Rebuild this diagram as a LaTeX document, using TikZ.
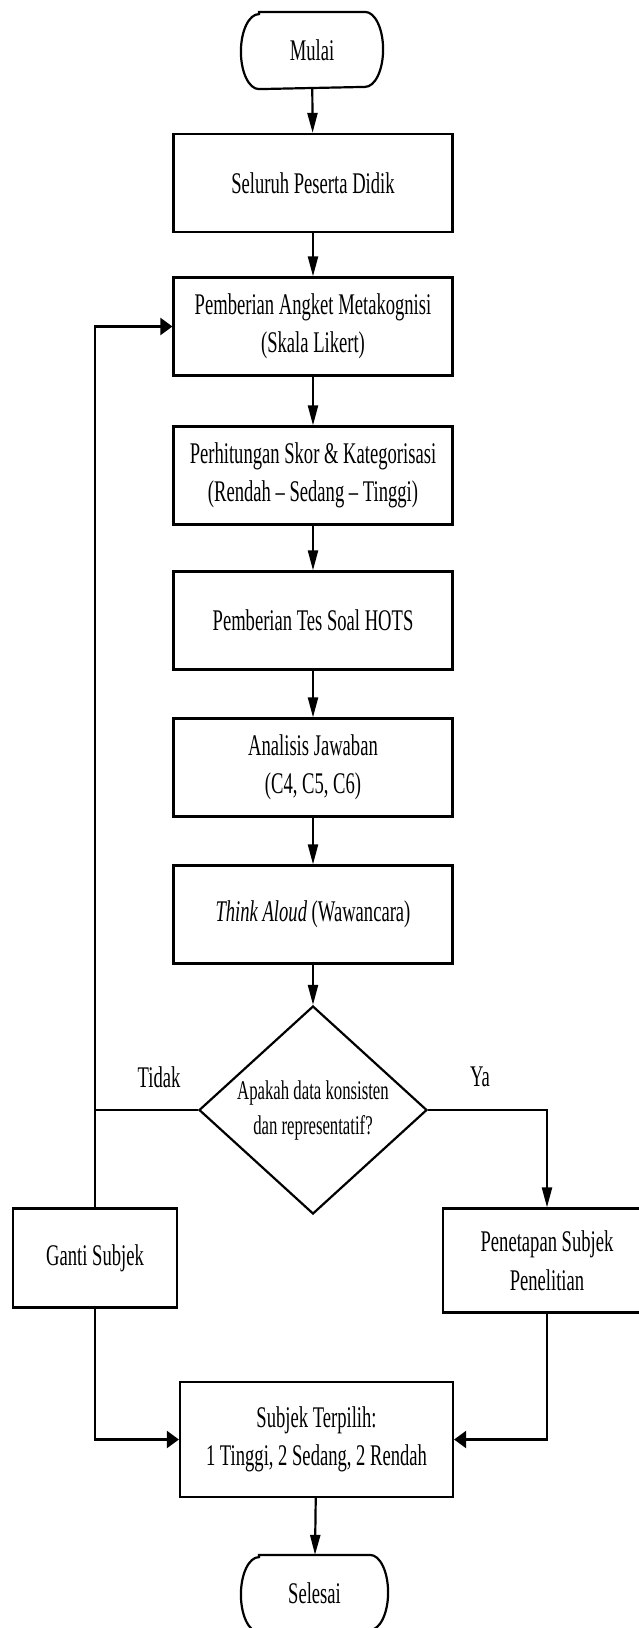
\documentclass[tikz,border=0pt]{standalone}
\usepackage{fontspec}
\setmainfont{Liberation Serif}[FakeStretch=0.62]
\usetikzlibrary{shapes.geometric}
\usetikzlibrary{arrows.meta}

\begin{document}
\begin{tikzpicture}[x=1pt, y=1pt, line width=2.2pt,
        box/.style={draw, rectangle, minimum width=279pt, minimum height=98pt, inner sep=0pt, align=center, font=\fontsize{30}{38.5}\selectfont},
        term/.style={minimum width=140pt, minimum height=75pt, inner sep=0pt, font=\fontsize{30}{34}\selectfont},
        flow/.style={-{Triangle[length=20pt,width=10pt]}},
        flowside/.style={-{Triangle[length=12pt,width=17pt]}}]
        \useasboundingbox (0,0) rectangle (638,-1628);
        \fill[white] (0,0) rectangle (638,-1628);
        \node[term] (mulai) at (312,-50.5){Mulai};
        \draw ([xshift=18pt]mulai.north west) -- ([xshift=-18pt]mulai.north east) arc[start angle=90, end angle=-90, x radius=18pt, y radius=37.5pt] -- ([xshift=18pt]mulai.south west) arc[start angle=270, end angle=90, x radius=18pt, y radius=37.5pt] -- cycle;
        \node[box] (peserta) at (313,-183){Seluruh Peserta Didik};
        \node[box] (angket) at (313,-326.5){Pemberian Angket Metakognisi\\(Skala Likert)};
        \node[box] (skor) at (313,-475.5){Perhitungan Skor \& Kategorisasi\\(Rendah -- Sedang -- Tinggi)};
        \node[box] (tes) at (313,-620.5){Pemberian Tes Soal HOTS};
        \node[box] (analisis) at (313,-767.5){Analisis Jawaban\\(C4, C5, C6)};
        \node[box] (think) at (313,-914.5){\textit{Think Aloud} (Wawancara)};
        \node[draw, diamond, aspect=1.1, minimum width=228pt, minimum height=208pt, inner sep=0pt, align=center, font=\fontsize{27}{35}\selectfont] (cek) at (313,-1110){Apakah data konsisten\\dan representatif?};
        \node[box, minimum width=164pt, minimum height=99pt] (ganti) at (95,-1258){Ganti Subjek};
        \node[box, minimum width=240pt, minimum height=104pt] (tetap) at (563,-1260.5){};
        \node[align=center, font=\fontsize{30}{38.5}\selectfont] (tetaptext) at (547,-1260.5){Penetapan Subjek\\Penelitian};
        \node[box, minimum width=273pt, minimum height=115pt] (pilih) at (316.5,-1439.5){Subjek Terpilih:\\1 Tinggi, 2 Sedang, 2 Rendah};
        \node[term, minimum width=145pt] (selesai) at (314.5,-1593.5){Selesai};
        \draw ([xshift=18pt]selesai.north west) -- ([xshift=-18pt]selesai.north east) arc[start angle=90, end angle=-90, x radius=18pt, y radius=37.5pt] -- ([xshift=18pt]selesai.south west) arc[start angle=270, end angle=90, x radius=18pt, y radius=37.5pt] -- cycle;
        \draw[flow] (mulai) -- (peserta);
        \draw[flow] (peserta) -- (angket);
        \draw[flow] (angket) -- (skor);
        \draw[flow] (skor) -- (tes);
        \draw[flow] (tes) -- (analisis);
        \draw[flow] (analisis) -- (think);
        \draw[flow] (think) -- (cek);
        \draw[flow] (cek.east) -| (tetaptext.north |- tetap.north);
        \draw (cek.west) -- (ganti.north |- cek.west);
        \draw[flowside] (ganti.north) |- (angket.west);
        \draw[flowside] (ganti.south) |- (pilih.west);
        \draw[flowside] (tetaptext.south |- tetap.south) |- (pilih.east);
        \draw[flow] (pilih) -- (selesai);
        \node[font=\fontsize{30}{34}\selectfont] (tidak) at (159,-1077){Tidak};
        \node[font=\fontsize{30}{34}\selectfont] (ya) at (480,-1077){Ya};
    \end{tikzpicture}
\end{document}
